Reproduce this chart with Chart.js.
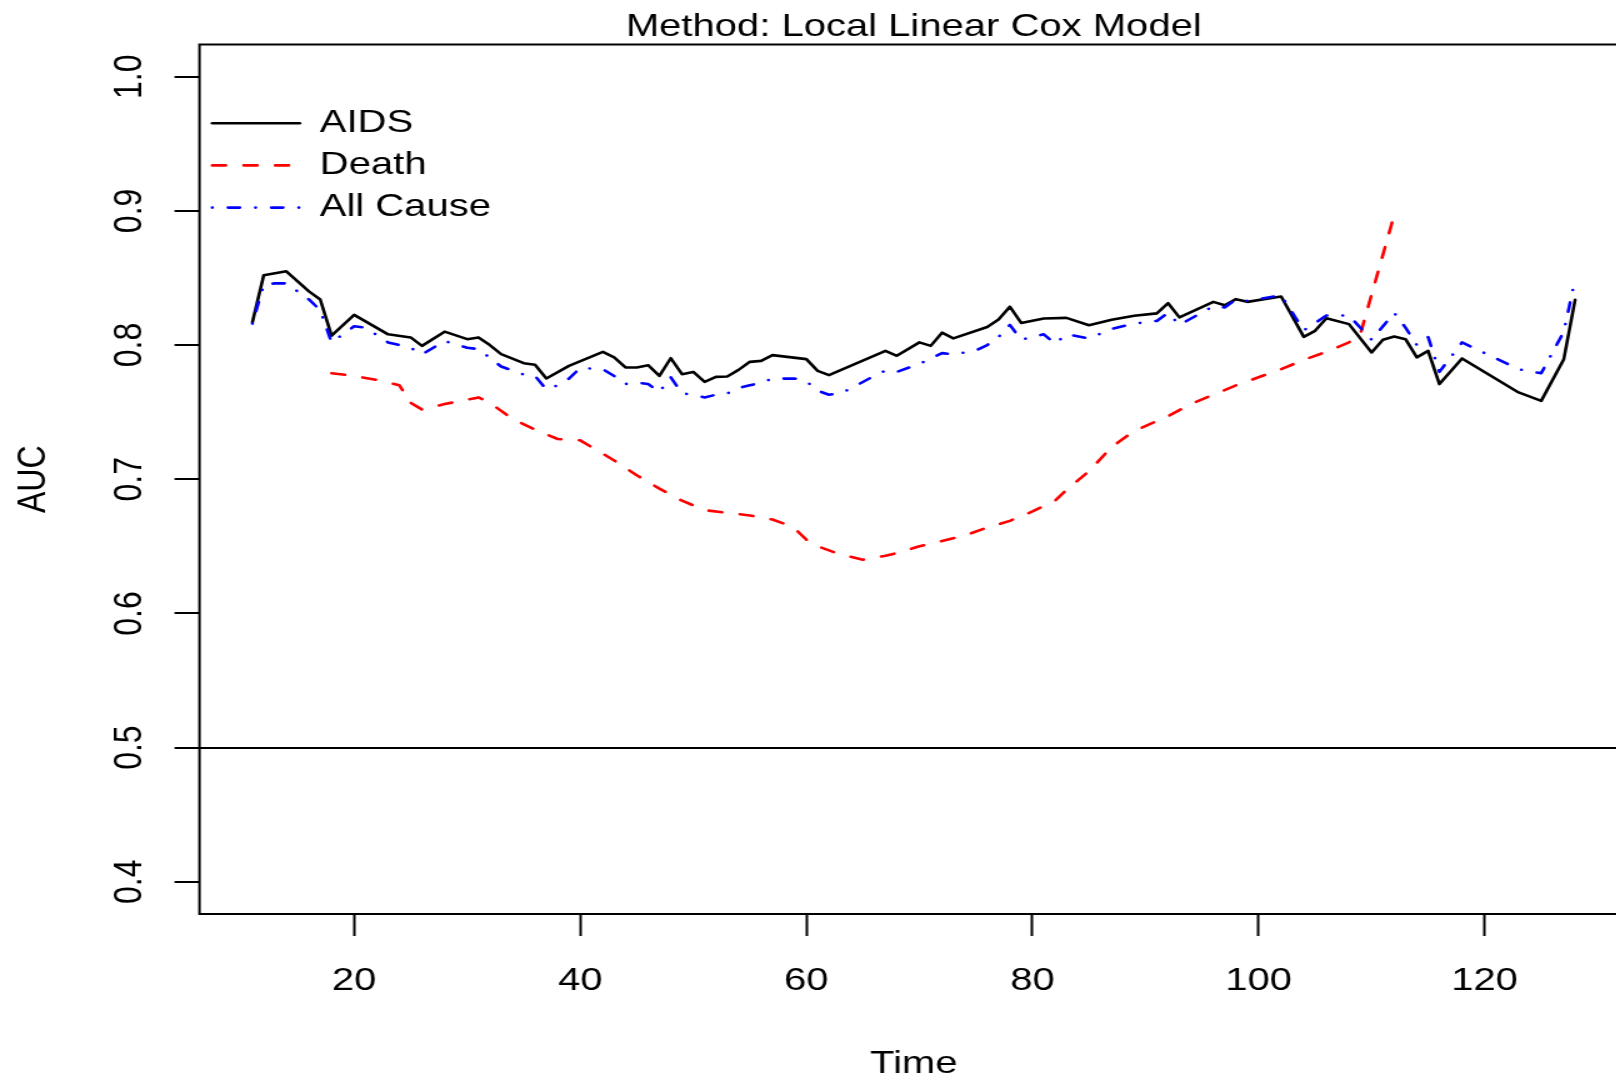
<!DOCTYPE html>
<html>
<head>
<meta charset="utf-8">
<title>Method: Local Linear Cox Model</title>
<script src="https://cdn.jsdelivr.net/npm/chart.js@4.4.0/dist/chart.umd.min.js"></script>
<style>
    html, body { margin: 0; padding: 0; background: #fff; overflow: hidden; }
    canvas { display: block; }
</style>
</head>
<body>
<!-- drawn at 1304 wide and shown 1.25x wider, like the stretched original -->
<canvas id="aucChart" width="1304" height="1083" style="width:1630px;height:1083px"></canvas>
<script>
// AIDS (solid black)
const aidsTime = [11, 12, 14, 16, 17, 18, 20, 23, 25, 26, 28, 30, 31, 32, 33, 35, 36, 37, 39, 42,
    43, 44, 45, 46, 47, 48, 49, 50, 51, 52, 53, 54, 55, 56, 57, 60, 61, 62, 67, 68,
    70, 71, 72, 73, 76, 77, 78, 79, 81, 83, 85, 87, 89, 91, 92, 93, 96, 97, 98, 99,
    102, 104, 105, 106, 108, 110, 111, 112, 113, 114, 115, 116, 118, 123, 125, 127, 128];
const aidsAuc = [0.817, 0.852, 0.855, 0.840, 0.834, 0.807, 0.8225, 0.808, 0.8057, 0.7994,
    0.810, 0.8044, 0.8057, 0.800, 0.7932, 0.7865, 0.7853, 0.7751, 0.7845, 0.7949,
    0.7908, 0.7833, 0.7833, 0.785, 0.777, 0.7902, 0.7783, 0.780, 0.7726, 0.7763,
    0.7766, 0.7815, 0.7875, 0.7882, 0.7925, 0.7895, 0.7808, 0.7776, 0.7957, 0.792,
    0.802, 0.7994, 0.8092, 0.805, 0.8135, 0.819, 0.8286, 0.8165, 0.8198, 0.8203,
    0.8148, 0.8188, 0.8218, 0.8236, 0.8312, 0.8206, 0.8322, 0.8297, 0.8342, 0.8322,
    0.8362, 0.8061, 0.8106, 0.820, 0.8156, 0.7945, 0.804, 0.8064, 0.8044, 0.7908,
    0.7957, 0.7709, 0.790, 0.7647, 0.7584, 0.7895, 0.8337];

// Death (red dashed)
const deathTime = [18, 20, 22, 24, 25, 26, 28, 31, 32, 34, 36, 38, 40, 41, 43, 45, 47, 49, 51, 53,
    55, 57, 58, 59, 60, 61, 63, 65, 67, 68, 70, 72, 74, 76, 78, 80, 82, 83, 85, 87,
    89, 92, 94, 96, 98, 100, 102, 104, 106, 108, 109, 112];
const deathAuc = [0.779, 0.777, 0.774, 0.770, 0.757, 0.752, 0.756, 0.761, 0.757, 0.745,
    0.737, 0.730, 0.729, 0.724, 0.714, 0.703, 0.693, 0.684, 0.677, 0.675,
    0.673, 0.670, 0.667, 0.663, 0.655, 0.650, 0.644, 0.640, 0.643, 0.645,
    0.650, 0.654, 0.658, 0.664, 0.669, 0.676, 0.684, 0.692, 0.706, 0.724,
    0.736, 0.747, 0.756, 0.763, 0.770, 0.776, 0.782, 0.789, 0.795, 0.802,
    0.808, 0.897];

// All Cause (blue dot-dash)
const allTime = [11, 12, 13, 14, 16, 17, 18, 20, 21, 23, 25, 26, 28, 30, 31, 33, 35, 36, 37, 38,
    39, 40, 42, 43, 44, 45, 46, 47, 48, 49, 50, 51, 52, 53, 54, 55, 56, 57, 59, 60,
    61, 62, 63, 64, 66, 67, 68, 70, 71, 72, 73, 75, 76, 77, 78, 79, 81, 82, 83, 85,
    87, 89, 91, 92, 93, 96, 97, 98, 99, 102, 104, 106, 108, 110, 112, 113, 114, 115, 116, 118,
    123, 125, 127, 128];
const allAuc = [0.816, 0.845, 0.846, 0.846, 0.834, 0.826, 0.802, 0.814, 0.813, 0.802,
    0.798, 0.793, 0.803, 0.798, 0.797, 0.784, 0.778, 0.777, 0.767, 0.770,
    0.775, 0.783, 0.782, 0.777, 0.771, 0.772, 0.771, 0.765, 0.776, 0.764,
    0.763, 0.761, 0.763, 0.764, 0.768, 0.770, 0.772, 0.775, 0.775, 0.773,
    0.766, 0.763, 0.764, 0.768, 0.777, 0.781, 0.780, 0.786, 0.790, 0.794,
    0.793, 0.796, 0.800, 0.806, 0.815, 0.804, 0.808, 0.801, 0.808, 0.805,
    0.812, 0.816, 0.818, 0.824, 0.815, 0.829, 0.828, 0.834, 0.833, 0.837,
    0.811, 0.822, 0.822, 0.804, 0.824, 0.813, 0.800, 0.806, 0.780, 0.802,
    0.782, 0.779, 0.810, 0.849];

// Axis ticks
const timeTicks = [20, 40, 60, 80, 100, 120];
const aucTicks = [0.4, 0.5, 0.6, 0.7, 0.8, 0.9, 1.0];
const referenceAuc = 0.5;

// Pair up time and AUC values as {x, y} points
function toPoints(times, values) {
    return times.map((t, i) => ({ x: t, y: values[i] }));
}

// Box around the plot region, as R's box()
const plotFrame = {
    id: 'plotFrame',
    beforeDatasetsDraw(chart) {
        const { ctx, chartArea } = chart;
        ctx.save();
        ctx.strokeStyle = '#000';
        ctx.lineWidth = 2;
        ctx.strokeRect(chartArea.left, chartArea.top,
            chartArea.right - chartArea.left, chartArea.bottom - chartArea.top);
        ctx.restore();
    }
};

Chart.defaults.font.family = "'Liberation Sans', Helvetica, Arial, sans-serif";
Chart.defaults.color = '#000';

const lineWidth = 2.6;

new Chart(document.getElementById('aucChart'), {
    type: 'line',
    data: {
        datasets: [{
            label: 'AIDS',
            data: toPoints(aidsTime, aidsAuc),
            borderColor: '#000000',
            borderWidth: lineWidth,
            borderDash: [],
            order: 2
        }, {
            label: 'Death',
            data: toPoints(deathTime, deathAuc),
            borderColor: '#ff0000',
            borderWidth: lineWidth,
            borderDash: [10.8, 14.4],
            order: 1
        }, {
            label: 'All Cause',
            data: toPoints(allTime, allAuc),
            borderColor: '#0000ff',
            borderWidth: lineWidth,
            borderDash: [0.1, 12.55, 9.4, 12.55],
            order: 0
        }]
    },
    options: {
        responsive: false,
        animation: false,
        events: [],
        elements: {
            point: { radius: 0, pointStyle: 'line' },
            line: { tension: 0, fill: false, borderCapStyle: 'round', borderJoinStyle: 'round' }
        },
        layout: {
            padding: { left: 0, right: 1.6, top: 0, bottom: 0 }
        },
        scales: {
            x: {
                type: 'linear',
                min: 6.32,
                max: 132.68,
                afterBuildTicks: scale => { scale.ticks = timeTicks.map(v => ({ value: v })); },
                afterFit: scale => { scale.height = 169; },
                border: { display: false },
                grid: {
                    drawOnChartArea: false,
                    drawTicks: true,
                    tickLength: 22,
                    tickColor: '#000',
                    tickWidth: 2
                },
                ticks: {
                    autoSkip: false,
                    maxRotation: 0,
                    padding: 25.8,
                    font: { size: 32 },
                    callback: v => String(v)
                },
                title: {
                    display: true,
                    text: 'Time',
                    font: { size: 32 },
                    padding: { top: 0, bottom: -0.8 }
                }
            },
            y: {
                type: 'linear',
                min: 0.376,
                max: 1.024,
                afterBuildTicks: scale => { scale.ticks = aucTicks.map(v => ({ value: v })); },
                afterFit: scale => { scale.width = 159.6; },
                border: { display: false },
                grid: {
                    drawOnChartArea: true,
                    drawTicks: true,
                    tickLength: 20,
                    tickColor: '#000',
                    tickWidth: 2,
                    lineWidth: 2,
                    // only the AUC = 0.5 reference line is drawn across the plot
                    color: c => (c.tick && c.tick.value === referenceAuc) ? '#000' : 'rgba(0,0,0,0)'
                },
                ticks: {
                    autoSkip: false,
                    minRotation: 90,
                    maxRotation: 90,
                    crossAlign: 'center',
                    padding: 13,
                    font: { size: 32 },
                    callback: v => v.toFixed(1)
                },
                title: {
                    display: true,
                    text: 'AUC',
                    font: { size: 32 },
                    padding: { top: 7.6, bottom: 0 }
                }
            }
        },
        plugins: {
            title: {
                display: true,
                text: 'Method: Local Linear Cox Model',
                fullSize: false,
                color: '#000',
                font: { size: 32, weight: 'normal' },
                padding: { top: 8.1, bottom: -2.0 }
            },
            legend: {
                position: 'chartArea',
                align: 'start',
                // blank title only pushes the entries down (the box starts at the canvas top)
                title: {
                    display: true,
                    text: ' ',
                    font: { size: 10, lineHeight: 1.2 },
                    padding: { top: 85, bottom: 0 }
                },
                labels: {
                    usePointStyle: true,
                    pointStyleWidth: 70,
                    padding: 10.2,
                    color: '#000',
                    font: { size: 32 },
                    generateLabels: chart => chart.data.datasets.map((ds, i) => ({
                        text: ds.label,
                        strokeStyle: ds.borderColor,
                        fillStyle: ds.borderColor,
                        lineWidth: ds.borderWidth,
                        lineDash: ds.borderDash,
                        lineCap: 'round',
                        pointStyle: 'line',
                        hidden: false,
                        datasetIndex: i
                    }))
                }
            },
            tooltip: { enabled: false }
        }
    },
    plugins: [plotFrame]
});
</script>
</body>
</html>
